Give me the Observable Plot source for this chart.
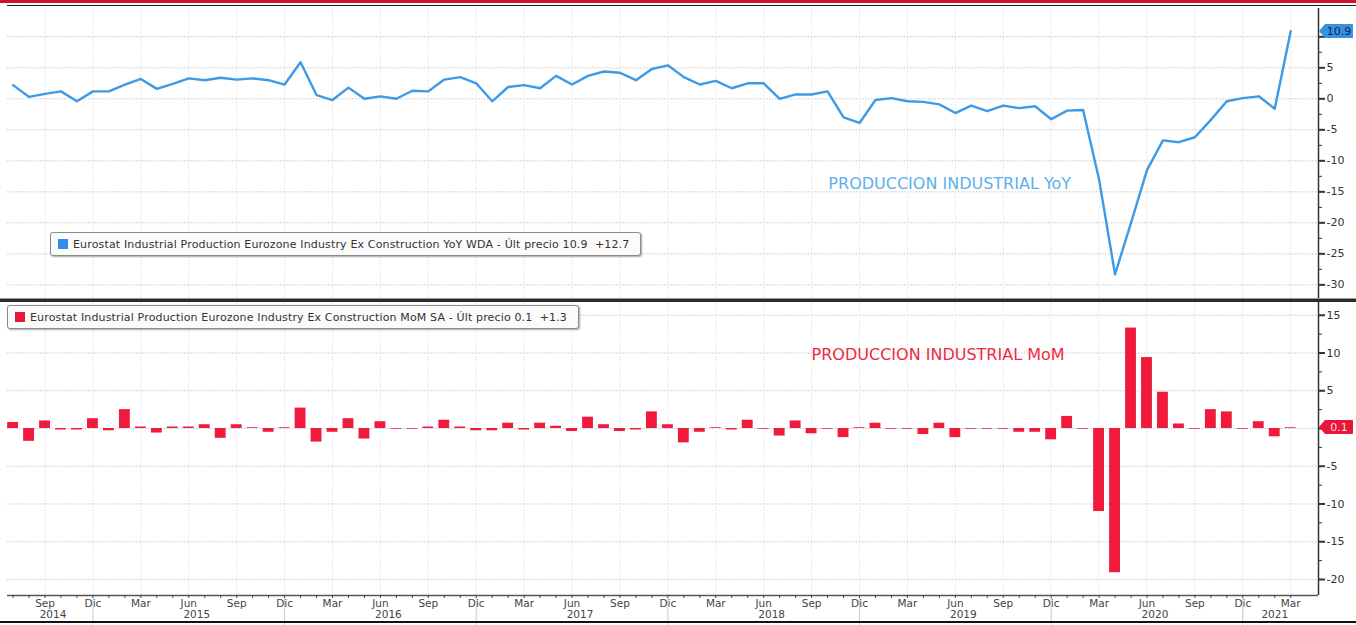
<!DOCTYPE html>
<html><head><meta charset="utf-8">
<script src="https://cdn.jsdelivr.net/npm/d3@7"></script>
<script src="https://cdn.jsdelivr.net/npm/@observablehq/plot@0.6"></script>
<style>
body{margin:0;background:#fff;width:1356px;height:625px;overflow:hidden;position:relative;font-family:"DejaVu Sans",sans-serif;}
.abs{position:absolute;}
#top{top:0;left:0} #bot{top:300px;left:0}
.legend{position:absolute;border:1px solid #8a8a8a;border-radius:3px;background:#fbfbfb;box-shadow:1px 1px 2px rgba(0,0,0,.35);font-size:11px;letter-spacing:0.15px;color:#333;white-space:pre;display:flex;align-items:center;box-sizing:border-box;padding-left:7px}
.sq{display:inline-block;width:10px;height:10px;margin-right:5px}
</style></head>
<body>
<div class="abs" style="left:0;top:0;width:1356px;height:3px;background:#d2102c"></div>
<div class="abs" style="left:7px;top:5px;width:1349px;height:1px;background:#222"></div>
<div id="top" class="abs"></div>
<div id="bot" class="abs"></div>
<div class="abs" style="left:0;top:298px;width:1356px;height:1px;background:#999"></div>
<div class="abs" style="left:0;top:299px;width:1356px;height:3px;background:#2a2a2a"></div>
<div class="abs" style="left:0;top:621px;width:1356px;height:2px;background:#111"></div>
<script>
// ---- data (monthly, starting Jul 2014) ----
const startYear = 2014, startMonth = 6; // July (0-based)
const yoy = [
  2.2, 0.3, 0.8, 1.2, -0.4, 1.2,
  1.2, 2.3, 3.2, 1.6, 2.4, 3.3, 3.0, 3.4, 3.1, 3.3, 3.0, 2.3,
  5.9, 0.6, -0.2, 1.8, 0.0, 0.4, 0.0, 1.3, 1.2, 3.1, 3.5, 2.5,
  -0.4, 1.9, 2.2, 1.7, 3.7, 2.3, 3.7, 4.4, 4.2, 3.0, 4.8, 5.4,
  3.5, 2.3, 2.9, 1.7, 2.5, 2.5, 0.0, 0.7, 0.7, 1.2, -3.0, -3.9,
  -0.2, 0.1, -0.4, -0.5, -0.9, -2.3, -1.1, -2.0, -1.1, -1.5, -1.2, -3.3,
  -1.9, -1.8, -13.0, -28.3, -20.0, -11.5, -6.7, -7.0, -6.2, -3.4, -0.4, 0.1,
  0.4, -1.6, 10.9
];
const mom = [
  0.8, -1.7, 1.0, -0.2, -0.2, 1.3,
  -0.3, 2.5, 0.2, -0.6, 0.2, 0.2, 0.5, -1.3, 0.5, 0.1, -0.5, 0.1,
  2.7, -1.8, -0.5, 1.3, -1.4, 0.9, -0.1, -0.1, 0.2, 1.1, 0.2, -0.3,
  -0.3, 0.7, -0.2, 0.7, 0.3, -0.4, 1.5, 0.5, -0.4, -0.2, 2.2, 0.5,
  -1.9, -0.5, 0.1, -0.2, 1.1, -0.1, -1.0, 1.0, -0.7, -0.1, -1.2, 0.1,
  0.7, -0.1, -0.1, -0.8, 0.7, -1.2, -0.1, -0.1, -0.1, -0.5, -0.5, -1.5,
  1.6, -0.1, -11.0, -19.1, 13.3, 9.4, 4.8, 0.6, -0.1, 2.5, 2.2, -0.1,
  0.9, -1.1, 0.1
];
const monthAbbr = ["Ene","Feb","Mar","Abr","May","Jun","Jul","Ago","Sep","Oct","Nov","Dic"];
const yoyTicks = [10, 5, 0, -5, -10, -15, -20, -25, -30];
const momTicks = [15, 10, 5, 0, -5, -10, -15, -20];
const years = [2014, 2015, 2016, 2017, 2018, 2019, 2020, 2021];
const yoyLegend = "Eurostat Industrial Production Eurozone Industry Ex Construction YoY WDA - Últ precio 10.9  +12.7";
const momLegend = "Eurostat Industrial Production Eurozone Industry Ex Construction MoM SA - Últ precio 0.1  +1.3";
const yoyNote = "PRODUCCION INDUSTRIAL YoY";
const momNote = "PRODUCCION INDUSTRIAL MoM";

// ---- derived tables ----
const data = yoy.map((v, i) => ({i, yoy: v, mom: mom[i], m: (startMonth + i) % 12, y: startYear + Math.floor((startMonth + i) / 12)}));
const allIdx = data.map(d => d.i);
const quarterIdx = data.filter(d => d.m % 3 === 2).map(d => d.i);
const decIdx = data.filter(d => d.m === 11).map(d => d.i);
const yearLabels = years.map(yr => {
  const ix = data.filter(d => d.y === yr).map(d => d.i);
  return {year: String(yr), i: (d3.min(ix) + d3.max(ix)) / 2};
});
const minor = (ticks) => { const out = []; for (let k = 0; k < ticks.length - 1; k++) out.push((ticks[k] + ticks[k+1]) / 2); return out; };
const lastYoy = yoy[yoy.length - 1], lastMom = mom[mom.length - 1];
// tick labels hidden behind the last-value tag (as in the original)
const hideNear = (last) => (t) => Math.abs(t - last) < 2.5 ? "" : String(t);

const W = 1356, ML = 7, MR = 38;
const xDomain = [-0.35, 81.74];
const blue = "#3d9ae6", red = "#f01a3c", grid = "#c9c9c9", vgrid = "#e2e2e2", axisCol = "#333";

const topPlot = Plot.plot({
  width: W, height: 300, marginLeft: ML, marginRight: MR, marginTop: 8, marginBottom: 2,
  style: {fontFamily: "DejaVu Sans, sans-serif", background: "transparent"},
  x: {domain: xDomain, axis: null},
  y: {domain: [-32.2, 14.56], axis: null},
  marks: [
    Plot.ruleY(yoyTicks, {stroke: grid, strokeDasharray: "1.5,1.5"}),
    Plot.ruleX(quarterIdx, {stroke: vgrid, strokeDasharray: "1.5,1.5"}),
    Plot.text([yoyNote], {x: 51.05, y: -13.7, text: d => d, textAnchor: "start", fill: "#5cb0ec", fontSize: 16}),
    Plot.line(data, {x: "i", y: "yoy", stroke: blue, strokeWidth: 2.4, strokeLinejoin: "round"}),
    Plot.ruleX([xDomain[1]], {stroke: axisCol, strokeWidth: 1.5}),
    Plot.axisY(minor(yoyTicks), {anchor: "right", tickSize: 3, tickFormat: () => "", stroke: axisCol, label: null}),
    Plot.axisY(yoyTicks, {anchor: "right", tickSize: 6, tickPadding: 2, fontSize: 11, fill: "#333", stroke: axisCol, strokeWidth: 2, label: null, tickFormat: hideNear(lastYoy)})
  ]
});

const botPlot = Plot.plot({
  width: W, height: 325, marginLeft: ML, marginRight: MR, marginTop: 2, marginBottom: 30,
  style: {fontFamily: "DejaVu Sans, sans-serif", background: "transparent", overflow: "visible"},
  x: {domain: xDomain},
  y: {domain: [-22.12, 16.69], axis: null},
  marks: [
    Plot.ruleY(momTicks, {stroke: grid, strokeDasharray: "1.5,1.5"}),
    Plot.ruleX(quarterIdx, {stroke: vgrid, strokeDasharray: "1.5,1.5"}),
    Plot.text([momNote], {x: 50.0, y: 9.8, text: d => d, textAnchor: "start", fill: "#ee2a42", fontSize: 16}),
    Plot.rectY(data, {x1: d => d.i - 0.34, x2: d => d.i + 0.34, y1: 0, y2: "mom", fill: red}),
    Plot.ruleX([xDomain[1]], {stroke: axisCol, strokeWidth: 1.5}),
    Plot.ruleY([-22.12], {stroke: "#555", strokeWidth: 1.5}),
    Plot.axisY(minor(momTicks), {anchor: "right", tickSize: 3, tickFormat: () => "", stroke: axisCol, label: null}),
    Plot.axisY(momTicks, {anchor: "right", tickSize: 6, tickPadding: 2, fontSize: 11, fill: "#333", stroke: axisCol, strokeWidth: 2, label: null, tickFormat: hideNear(lastMom)}),
    Plot.axisX(allIdx, {tickSize: 3, tickFormat: () => "", stroke: "#444", label: null}),
    Plot.axisX(quarterIdx, {tickSize: 0, tickPadding: 4, fontSize: 10.5, fill: "#444", label: null,
      tickFormat: i => monthAbbr[(startMonth + i) % 12]}),
    Plot.ruleX(decIdx, {y1: -22.5, y2: -26.3, stroke: "#c8c8c8"}),
    Plot.text(yearLabels, {x: "i", text: "year", frameAnchor: "bottom", dy: 22, fontSize: 10.5, fill: "#444"})
  ]
});

document.getElementById("top").appendChild(topPlot);
document.getElementById("bot").appendChild(botPlot);

// ---- legends ----
function legend(left, top, width, color, text) {
  const el = document.createElement("div");
  el.className = "legend";
  el.style.left = left + "px"; el.style.top = top + "px"; el.style.width = width + "px"; el.style.height = "24px";
  el.innerHTML = `<span class="sq" style="background:${color}"></span><span></span>`;
  el.lastChild.textContent = text;
  document.body.appendChild(el);
}
legend(50, 232, 591, "#2f8fe8", yoyLegend);
legend(7, 305, 572, "#e8173a", momLegend);

// ---- last value tags, positioned via the plots' scales ----
function tag(yPix, bg, fg, text) {
  const ns = "http://www.w3.org/2000/svg";
  const svg = document.createElementNS(ns, "svg");
  svg.setAttribute("width", 36); svg.setAttribute("height", 16);
  svg.style.position = "absolute"; svg.style.left = "1318px"; svg.style.top = (yPix - 8) + "px";
  const p = document.createElementNS(ns, "path");
  p.setAttribute("d", "M1,8 L7,1 H34 Q35,1 35,2 V14 Q35,15 34,15 H7 Z");
  p.setAttribute("fill", bg);
  svg.appendChild(p);
  const t = document.createElementNS(ns, "text");
  t.setAttribute("x", 21); t.setAttribute("y", 12); t.setAttribute("text-anchor", "middle");
  t.setAttribute("font-size", "11"); t.setAttribute("font-family", "DejaVu Sans, sans-serif");
  t.setAttribute("fill", fg); t.textContent = text;
  svg.appendChild(t);
  document.body.appendChild(svg);
}
tag(topPlot.scale("y").apply(lastYoy), "#3b8fe0", "#0b2850", String(lastYoy));
tag(300 + botPlot.scale("y").apply(lastMom), "#e8173a", "#ffd6dc", String(lastMom));
</script>
</body></html>
